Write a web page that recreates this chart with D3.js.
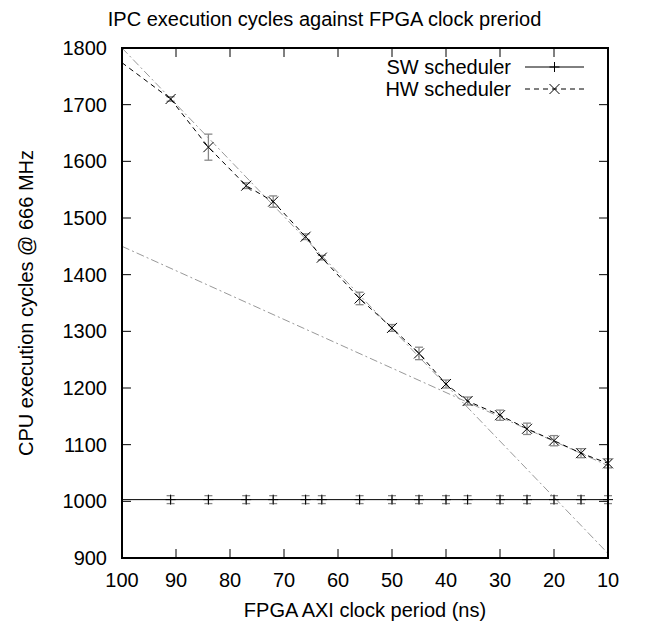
<!DOCTYPE html>
<html>
<head>
<meta charset="utf-8">
<script src="https://cdn.jsdelivr.net/npm/d3@7"></script>
<style>
  body { margin: 0; background: #fff; }
  svg { display: block; font-family: "Liberation Sans", Arial, Helvetica, sans-serif; }
</style>
</head>
<body>
<svg id="chart" width="649" height="622"></svg>
<script>
// periodos del reloj AXI (ns)
const periods = [91, 84, 77, 72, 66, 63, 56, 50, 45, 40, 36, 30, 25, 20, 15, 10];
// ciclos medios y error (+/-)
const hwCycles = [1710, 1625, 1557, 1529, 1467, 1430, 1358, 1306, 1261, 1207, 1177, 1152, 1128, 1107, 1085, 1067];
const hwError  = [4, 23, 5, 10, 5, 4, 11, 6, 11, 7, 7, 9, 10, 9, 8, 8];
const swCycles = [1003, 1003, 1003, 1003, 1003, 1003, 1003, 1003, 1003, 1003, 1003, 1003, 1003, 1003, 1003, 1003];
const swError  = [7, 7, 7, 7, 7, 7, 7, 7, 7, 7, 7, 7, 7, 7, 7, 7];
// tramo inicial de HW desde el borde izquierdo
const hwLead = [[100, 1774], [91, 1710]];
const swLead = [[100, 1003], [10, 1003]];
// rectas de ajuste (gris, punto y raya)
const fitSteep = [[100, 1800], [10, 908]];
const fitFlat  = [[100, 1450], [10, 1063]];

const xTicks = [100, 90, 80, 70, 60, 50, 40, 30, 20, 10];
const yTicks = [900, 1000, 1100, 1200, 1300, 1400, 1500, 1600, 1700, 1800];

const pLeft = 122, pRight = 608, pTop = 48, pBottom = 558;
const svg = d3.select("#chart");

const x = d3.scaleLinear().domain([100, 10]).range([pLeft, pRight]);
const y = d3.scaleLinear().domain([900, 1800]).range([pBottom, pTop]);

const fontSize = "20px";

// Título (centrado en el lienzo)
svg.append("text")
    .attr("x", 324.5).attr("y", 26)
    .attr("text-anchor", "middle")
    .style("font-size", fontSize)
    .text("IPC execution cycles against FPGA clock preriod");

// Ejes con ticks hacia dentro
const tickLen = 9;
const axisG = svg.append("g").attr("stroke", "#000").attr("stroke-width", 1);
xTicks.forEach(t => {
    axisG.append("line").attr("x1", x(t)).attr("x2", x(t)).attr("y1", pBottom).attr("y2", pBottom - tickLen);
    axisG.append("line").attr("x1", x(t)).attr("x2", x(t)).attr("y1", pTop).attr("y2", pTop + tickLen);
});
yTicks.forEach(t => {
    axisG.append("line").attr("x1", pLeft).attr("x2", pLeft + tickLen).attr("y1", y(t)).attr("y2", y(t));
    axisG.append("line").attr("x1", pRight).attr("x2", pRight - tickLen).attr("y1", y(t)).attr("y2", y(t));
});

svg.append("g").selectAll("text")
    .data(xTicks).join("text")
    .attr("x", d => x(d)).attr("y", 587)
    .attr("text-anchor", "middle")
    .style("font-size", fontSize)
    .text(d => d);

svg.append("g").selectAll("text")
    .data(yTicks).join("text")
    .attr("x", 107).attr("y", d => y(d))
    .attr("dy", "0.35em")
    .attr("text-anchor", "end")
    .style("font-size", fontSize)
    .text(d => d);

// Etiquetas de ejes
svg.append("text")
    .attr("x", (pLeft + pRight) / 2).attr("y", 617)
    .attr("text-anchor", "middle")
    .style("font-size", fontSize)
    .text("FPGA AXI clock period (ns)");

svg.append("text")
    .attr("transform", `translate(33,${(pTop + pBottom) / 2}) rotate(-90)`)
    .attr("text-anchor", "middle")
    .style("font-size", fontSize)
    .text("CPU execution cycles @ 666 MHz");

const line = d3.line().x(d => x(d[0])).y(d => y(d[1]));

// Rectas de ajuste
[fitSteep, fitFlat].forEach(f => {
    svg.append("path")
        .attr("d", line(f))
        .attr("fill", "none")
        .attr("stroke", "#999")
        .attr("stroke-width", 1)
        .attr("stroke-dasharray", "8,3,2,3");
});

// Barras de error
function errorBars(vals, errs) {
    const g = svg.append("g").attr("stroke", "#888").attr("stroke-width", 1.3);
    periods.forEach((p, i) => {
        const cx = x(p), y1 = y(vals[i] - errs[i]), y2 = y(vals[i] + errs[i]);
        g.append("line").attr("x1", cx).attr("x2", cx).attr("y1", y1).attr("y2", y2);
        g.append("line").attr("x1", cx - 4).attr("x2", cx + 4).attr("y1", y1).attr("y2", y1);
        g.append("line").attr("x1", cx - 4).attr("x2", cx + 4).attr("y1", y2).attr("y2", y2);
    });
}
errorBars(swCycles, swError);
errorBars(hwCycles, hwError);

// Serie SW: línea continua
svg.append("path")
    .attr("d", line(swLead))
    .attr("fill", "none").attr("stroke", "#000").attr("stroke-width", 1);

// Serie HW: discontinua
const hwPts = periods.map((p, i) => [p, hwCycles[i]]);
svg.append("path")
    .attr("d", line(hwLead))
    .attr("fill", "none").attr("stroke", "#000").attr("stroke-width", 1)
    .attr("stroke-dasharray", "5,4");
svg.append("path")
    .attr("d", line(hwPts))
    .attr("fill", "none").attr("stroke", "#000").attr("stroke-width", 1)
    .attr("stroke-dasharray", "5,4");

// Marcadores
const m = 5;
const markG = svg.append("g").attr("stroke", "#000").attr("stroke-width", 1);
periods.forEach((p, i) => {
    const sx = x(p), sy = y(swCycles[i]);
    markG.append("line").attr("x1", sx - m).attr("x2", sx + m).attr("y1", sy).attr("y2", sy);
    markG.append("line").attr("x1", sx).attr("x2", sx).attr("y1", sy - m).attr("y2", sy + m);
    const hx = x(p), hy = y(hwCycles[i]);
    markG.append("line").attr("x1", hx - m).attr("x2", hx + m).attr("y1", hy - m).attr("y2", hy + m);
    markG.append("line").attr("x1", hx - m).attr("x2", hx + m).attr("y1", hy + m).attr("y2", hy - m);
});

// Leyenda
const legend = [
    { label: "SW scheduler", dash: null, mark: "plus", yy: 67 },
    { label: "HW scheduler", dash: "5,4", mark: "cross", yy: 89 }
];
legend.forEach(l => {
    svg.append("text")
        .attr("x", 511).attr("y", l.yy).attr("dy", "0.35em")
        .attr("text-anchor", "end")
        .style("font-size", fontSize)
        .text(l.label);
    svg.append("line")
        .attr("x1", 525).attr("x2", 584).attr("y1", l.yy).attr("y2", l.yy)
        .attr("stroke", "#000").attr("stroke-width", 1)
        .attr("stroke-dasharray", l.dash);
    const cx = 554.5;
    if (l.mark === "plus") {
        markG.append("line").attr("x1", cx - m).attr("x2", cx + m).attr("y1", l.yy).attr("y2", l.yy);
        markG.append("line").attr("x1", cx).attr("x2", cx).attr("y1", l.yy - m).attr("y2", l.yy + m);
    } else {
        markG.append("line").attr("x1", cx - m).attr("x2", cx + m).attr("y1", l.yy - m).attr("y2", l.yy + m);
        markG.append("line").attr("x1", cx - m).attr("x2", cx + m).attr("y1", l.yy + m).attr("y2", l.yy - m);
    }
});

// Marco
svg.append("rect")
    .attr("x", pLeft).attr("y", pTop)
    .attr("width", pRight - pLeft).attr("height", pBottom - pTop)
    .attr("fill", "none").attr("stroke", "#000").attr("stroke-width", 2);
</script>
</body>
</html>
